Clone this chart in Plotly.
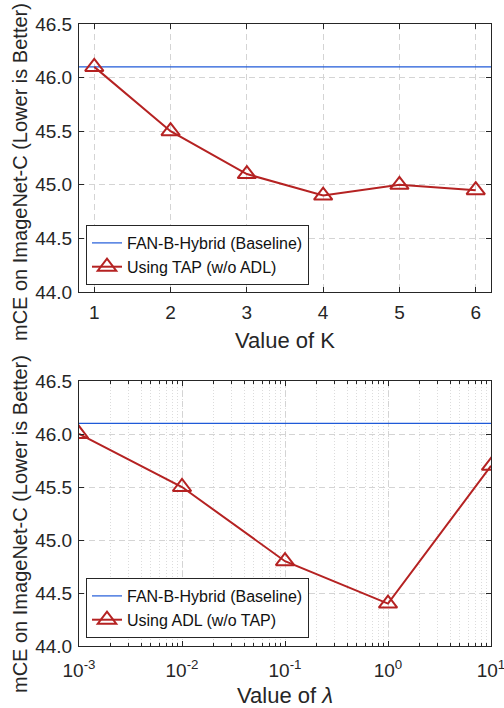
import plotly.graph_objects as go
from plotly.subplots import make_subplots

# ---- data ----
k_values = [1, 2, 3, 4, 5, 6]
tap_mce = [46.1, 45.5, 45.1, 44.9, 45.0, 44.95]
lambda_values = [0.001, 0.01, 0.1, 1, 10]
adl_mce = [46.0, 45.5, 44.8, 44.4, 45.7]
baseline_mce = 46.1
y_ticks = [44.0, 44.5, 45.0, 45.5, 46.0, 46.5]
y_ticktext = ["44.0", "44.5", "45.0", "45.5", "46.0", "46.5"]
lambda_ticktext = ["10<sup>-3</sup>", "10<sup>-2</sup>", "10<sup>-1</sup>", "10<sup>0</sup>", "10<sup>1</sup>"]
baseline_name = "FAN-B-Hybrid (Baseline)"
tap_name = "Using TAP (w/o ADL)"
adl_name = "Using ADL (w/o TAP)"
y_title = "mCE on ImageNet-C (Lower is Better)"

W, H = 504, 708
FONT = "Liberation Sans, Arial, Helvetica, sans-serif"
RED = "#B52222"
BLUE = "#1F5AD8"
AXC = "#262626"
GRID = "#d4d4d4"

fig = make_subplots(rows=2, cols=1)

# top
fig.add_trace(go.Scatter(x=[0.8, 6.2], y=[baseline_mce, baseline_mce], mode="lines",
                         line=dict(color=BLUE, width=1.2), name=baseline_name,
                         legend="legend"), row=1, col=1)
fig.add_trace(go.Scatter(x=k_values, y=tap_mce, mode="lines+markers",
                         line=dict(color=RED, width=2),
                         marker=dict(symbol="triangle-up-open", size=16, color=RED,
                                     line=dict(width=2, color=RED)),
                         name=tap_name, legend="legend"), row=1, col=1)
# bottom
fig.add_trace(go.Scatter(x=[0.001, 10], y=[baseline_mce, baseline_mce], mode="lines",
                         line=dict(color=BLUE, width=1.2), name=baseline_name,
                         legend="legend2"), row=2, col=1)
fig.add_trace(go.Scatter(x=lambda_values, y=adl_mce, mode="lines+markers",
                         line=dict(color=RED, width=2),
                         marker=dict(symbol="triangle-up-open", size=16, color=RED,
                                     line=dict(width=2, color=RED)),
                         name=adl_name, legend="legend2"), row=2, col=1)

def px_x(p):
    return p / W

def px_y(p):
    return 1 - p / H

common_axis = dict(showline=True, linecolor=AXC, linewidth=1, mirror="ticks",
                   ticks="inside", ticklen=5, tickcolor=AXC, tickwidth=1,
                   showgrid=True, gridcolor=GRID, griddash="6px,4px", gridwidth=1,
                   zeroline=False, automargin=False, ticklabeloverflow="allow",
                   tickfont=dict(family=FONT, size=19, color=AXC))

fig.update_xaxes(**common_axis)
fig.update_yaxes(**common_axis)

fig.update_xaxes(row=1, col=1, range=[0.8, 6.2], tickmode="array", tickvals=k_values,
                 domain=[px_x(79), px_x(491)], ticklabelstandoff=3)
fig.update_yaxes(row=1, col=1, range=[44.0, 46.5], tickmode="array", tickvals=y_ticks,
                 ticktext=y_ticktext, domain=[px_y(292), px_y(24)], ticklabelstandoff=2)
fig.update_xaxes(row=2, col=1, type="log", range=[-3, 1], tickmode="array",
                 tickvals=lambda_values, ticktext=lambda_ticktext,
                 domain=[px_x(79), px_x(491)], ticklabelstandoff=7,
                 minor=dict(tickmode="linear", dtick="D1", ticks="inside", ticklen=3,
                            tickcolor=AXC, showgrid=True, gridcolor="#dcdcdc",
                            griddash="1px,2px", gridwidth=1))
fig.update_yaxes(row=2, col=1, range=[44.0, 46.5], tickmode="array", tickvals=y_ticks,
                 ticktext=y_ticktext, domain=[px_y(646), px_y(381)], ticklabelstandoff=2)

legend_style = dict(bgcolor="white", bordercolor=AXC, borderwidth=1,
                    font=dict(family=FONT, size=16, color="#111111"),
                    xanchor="left", yanchor="bottom", itemwidth=30,
                    tracegroupgap=0)

fig.update_layout(
    width=W, height=H,
    margin=dict(l=0, r=0, t=0, b=0, autoexpand=False),
    paper_bgcolor="white", plot_bgcolor="white",
    font=dict(family=FONT, color=AXC),
    legend=dict(x=px_x(86), y=px_y(285), **legend_style),
    legend2=dict(x=px_x(86), y=px_y(638), **legend_style),
    annotations=[
        dict(text="Value of K", x=px_x(285), y=px_y(340), xref="paper", yref="paper",
             showarrow=False, font=dict(family=FONT, size=22, color=AXC),
             xanchor="center", yanchor="middle"),
        dict(text="Value of <i>λ</i>", x=px_x(285), y=px_y(695), xref="paper", yref="paper",
             showarrow=False, font=dict(family=FONT, size=22, color=AXC),
             xanchor="center", yanchor="middle"),
        dict(text=y_title, x=px_x(20), y=px_y(172), xref="paper", yref="paper",
             showarrow=False, textangle=-90, font=dict(family=FONT, size=20, color=AXC),
             xanchor="center", yanchor="middle"),
        dict(text=y_title, x=px_x(20), y=px_y(524), xref="paper", yref="paper",
             showarrow=False, textangle=-90, font=dict(family=FONT, size=20, color=AXC),
             xanchor="center", yanchor="middle"),
    ],
)

fig.write_html("out.html", config={"displayModeBar": False},
               post_script="document.body.style.margin='0px';document.body.style.overflow='hidden';")
